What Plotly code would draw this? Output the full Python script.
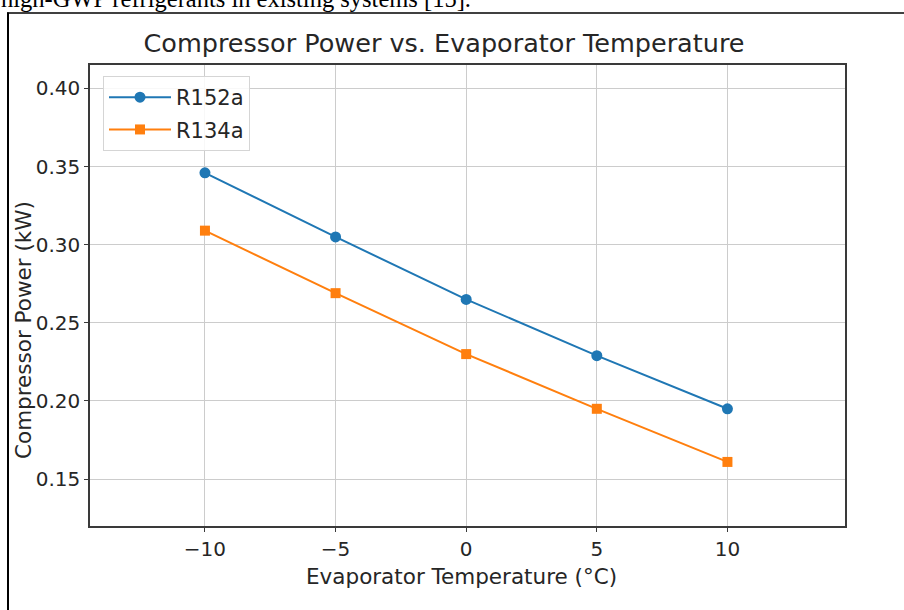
import plotly.graph_objects as go

# ---- data ----
evap_temp = [-10, -5, 0, 5, 10]
r152a_power = [0.346, 0.305, 0.265, 0.229, 0.195]
r134a_power = [0.309, 0.269, 0.230, 0.195, 0.161]
series_names = ["R152a", "R134a"]
x_tick_vals = [-10, -5, 0, 5, 10]
x_tick_text = ["\u221210", "\u22125", "0", "5", "10"]
y_tick_vals = [0.15, 0.20, 0.25, 0.30, 0.35, 0.40]
y_tick_text = ["0.15", "0.20", "0.25", "0.30", "0.35", "0.40"]

W, H = 904, 610
L, R, T, B = 90, 845, 65, 526  # plot area in pixels


def px2x(px):
    return (px - L) / (R - L)


def py2y(py):
    return (B - py) / (B - T)


FONT = "DejaVu Sans"
TXT = "#262626"

fig = go.Figure()
fig.add_trace(go.Scatter(
    x=evap_temp, y=r152a_power, name=series_names[0], mode="lines+markers",
    legendgroup="a",
    line=dict(color="#1f77b4", width=2),
    marker=dict(symbol="circle", size=11, color="#1f77b4"),
))
fig.add_trace(go.Scatter(
    x=evap_temp, y=r134a_power, name=series_names[1], mode="lines+markers",
    legendgroup="b",
    line=dict(color="#ff7f0e", width=2),
    marker=dict(symbol="square", size=10, color="#ff7f0e"),
))

axis_common = dict(
    showgrid=True, gridcolor="#cccccc", gridwidth=1,
    showline=True, linecolor="#3a3a3a", linewidth=1.5, mirror=True,
    ticks="outside", ticklen=4, tickcolor="#3a3a3a", tickwidth=1,
    zeroline=False,
    tickfont=dict(family=FONT, size=20, color=TXT),
)

fig.update_layout(
    width=W, height=H,
    margin=dict(l=L, r=W - R, t=T, b=H - B),
    paper_bgcolor="white", plot_bgcolor="white",
    showlegend=True,
    legend=dict(
        x=px2x(103), y=py2y(76), xanchor="left", yanchor="top",
        bgcolor="rgba(255,255,255,0.85)", bordercolor="#d5d5d5", borderwidth=1,
        font=dict(family=FONT, size=21, color=TXT),
        itemwidth=62, tracegroupgap=2,
    ),
    title=dict(
        text="Compressor Power vs. Evaporator Temperature",
        font=dict(family=FONT, size=25.5, color=TXT),
        xref="paper", x=px2x(444), xanchor="center",
        yref="container", y=1 - 43 / H, yanchor="middle",
    ),
    xaxis=dict(range=[-14.4, 14.5], tickvals=x_tick_vals, ticktext=x_tick_text, **axis_common),
    yaxis=dict(range=[0.12, 0.415], tickvals=y_tick_vals, ticktext=y_tick_text, **axis_common),
)

annotations = [
    dict(text="Evaporator Temperature (\u00b0C)", xref="paper", yref="paper",
         x=px2x(461), y=py2y(576), xanchor="center", yanchor="middle", showarrow=False,
         font=dict(family=FONT, size=21.5, color=TXT)),
    dict(text="Compressor Power (kW)", xref="paper", yref="paper", textangle=-90,
         x=px2x(23), y=py2y(330), xanchor="center", yanchor="middle", showarrow=False,
         font=dict(family=FONT, size=21.5, color=TXT)),
    dict(text="high-GWP refrigerants in existing systems [15].", xref="paper", yref="paper",
         x=px2x(-1), y=py2y(-1.5), xanchor="left", yanchor="middle", showarrow=False,
         font=dict(family="Liberation Serif", size=24.5, color="black")),
]
fig.update_layout(annotations=annotations)

# outer document frame (top and left edges)
fig.add_shape(type="line", xref="paper", yref="paper",
              x0=px2x(7), x1=px2x(910), y0=py2y(13), y1=py2y(13),
              line=dict(color="black", width=1.5))
fig.add_shape(type="line", xref="paper", yref="paper",
              x0=px2x(8), x1=px2x(8), y0=py2y(12.5), y1=py2y(620),
              line=dict(color="black", width=2))

fig.write_html("out.html")
